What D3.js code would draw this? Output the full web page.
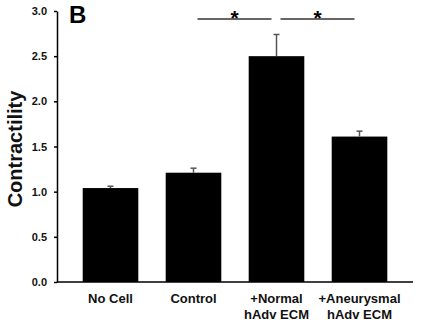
<!DOCTYPE html>
<html>
<head>
<meta charset="utf-8">
<script src="https://cdn.jsdelivr.net/npm/d3@7"></script>
<style>
  body { margin: 0; background: #fff; }
  svg { font-family: "Liberation Sans", Arial, sans-serif; font-weight: bold; }
</style>
</head>
<body>
<svg id="chart" width="423" height="332"></svg>
<script>
// Data
const categories = ["No Cell", "Control", "+Normal\nhAdv ECM", "+Aneurysmal\nhAdv ECM"];
const contractility = [1.04, 1.21, 2.50, 1.61];
const errors = [0.02, 0.05, 0.24, 0.06];
const yTicks = [0, 0.5, 1.0, 1.5, 2.0, 2.5, 3.0];
const significance = [[1, 2], [2, 3]];

const svg = d3.select("#chart");

// Scales
const x = d3.scaleBand()
    .domain(d3.range(categories.length))
    .range([69, 401])
    .paddingInner(0.33)
    .paddingOuter(0.165);
const y = d3.scaleLinear().domain([0, 3]).range([282, 11]);
const axisX = 57;

// Bars
svg.selectAll("rect.bar")
    .data(contractility)
    .enter().append("rect")
    .attr("x", (d, i) => x(i))
    .attr("y", d => y(d))
    .attr("width", x.bandwidth())
    .attr("height", d => y(0) - y(d))
    .attr("fill", "#000");

// Error bars (upper only)
const err = svg.append("g").attr("stroke", "#555").attr("stroke-width", 1.5);
contractility.forEach((v, i) => {
    const cx = x(i) + x.bandwidth() / 2;
    err.append("line").attr("x1", cx).attr("x2", cx).attr("y1", y(v)).attr("y2", y(v + errors[i]));
    err.append("line").attr("x1", cx - 3).attr("x2", cx + 3).attr("y1", y(v + errors[i])).attr("y2", y(v + errors[i]));
});

// Y axis
const yAxis = svg.append("g")
    .attr("transform", `translate(${axisX},0)`)
    .call(d3.axisLeft(y).tickValues(yTicks).tickFormat(d3.format(".1f")).tickSizeInner(3).tickSizeOuter(0).tickPadding(7));
yAxis.select(".domain").attr("stroke", "#000").attr("stroke-width", 1.5);
yAxis.selectAll(".tick line").attr("stroke", "#000").attr("stroke-width", 1.5);
yAxis.selectAll(".tick text").attr("font-size", 11).attr("font-weight", "bold").attr("fill", "#111");

// X axis baseline
svg.append("line")
    .attr("x1", axisX).attr("x2", 413)
    .attr("y1", y(0)).attr("y2", y(0))
    .attr("stroke", "#000").attr("stroke-width", 1.5);

// Category labels
svg.selectAll("text.cat")
    .data(categories)
    .enter().append("text")
    .attr("class", "cat")
    .attr("text-anchor", "middle")
    .attr("font-size", 13)
    .attr("fill", "#111")
    .each(function(d, i) {
        const cx = x(i) + x.bandwidth() / 2;
        d.split("\n").forEach((line, j) => {
            d3.select(this).append("tspan")
                .attr("x", cx)
                .attr("y", 303 + j * 15.5)
                .text(line);
        });
    });

// Y label
svg.append("text")
    .attr("transform", "translate(22,149) rotate(-90)")
    .attr("text-anchor", "middle")
    .attr("font-size", 20)
    .attr("fill", "#111")
    .text("Contractility");

// Panel letter
svg.append("text")
    .attr("x", 69).attr("y", 23)
    .attr("font-size", 24)
    .attr("fill", "#000")
    .text("B");

// Significance brackets
const sig = svg.append("g");
significance.forEach(([a, b]) => {
    const x1 = x(a) + x.bandwidth() / 2 + 4;
    const x2 = x(b) + x.bandwidth() / 2 - 5;
    sig.append("line")
        .attr("x1", x1).attr("x2", x2)
        .attr("y1", 19).attr("y2", 19)
        .attr("stroke", "#333").attr("stroke-width", 1.3);
    sig.append("text")
        .attr("x", (x1 + x2) / 2).attr("y", 25)
        .attr("text-anchor", "middle")
        .attr("font-size", 21)
        .attr("fill", "#000")
        .text("*");
});
</script>
</body>
</html>
